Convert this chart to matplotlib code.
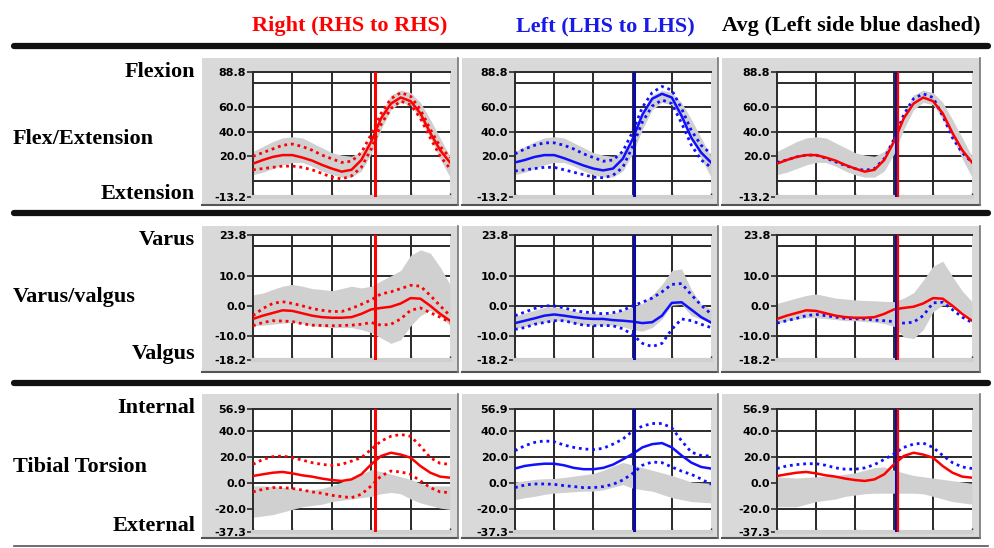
import matplotlib
matplotlib.use("Agg")
import matplotlib.pyplot as plt
from matplotlib.patches import Rectangle

# % gait cycle
gait = [0, 5, 10, 15, 20, 25, 30, 35, 40, 45, 50, 55, 60, 65, 70, 75, 80, 85, 90, 95, 100]

# toe-off (% gait)
toe_r = 62.0
toe_l = 60.8

# ---- Flex/Extension ----
fe_r = [14, 17, 19.5, 21, 21, 19, 16.5, 13, 10, 7.5, 9, 17, 32, 51, 63, 68, 65, 55, 39, 25, 15]
fe_r_hi = [20, 23, 26, 29, 30, 28, 25, 21, 18, 15, 16, 23, 38, 55, 67, 72, 69, 58, 42, 28, 19]
fe_r_lo = [9, 10, 11, 12, 12, 11, 9, 6, 3, 1.5, 4, 11, 26, 46, 59, 65, 62, 51, 35, 20, 10]
fe_l = [15, 17, 19.5, 21, 21, 18.5, 15.5, 12.5, 10, 8.5, 10, 18, 34, 54, 67, 71, 68, 53, 35, 23, 15]
fe_l_hi = [22, 26, 29, 31, 31, 29, 26, 22, 19, 16, 17, 24, 40, 60, 72, 77, 74, 59, 41, 29, 22]
fe_l_lo = [8, 9, 10, 11, 11, 9, 7, 5, 3, 2.5, 4.5, 11, 28, 48, 61, 66, 63, 47, 29, 17, 11]
fe_band_hi = [24, 28, 32, 35, 36, 35, 31, 27, 23, 21, 20, 24, 35, 55, 70, 74, 72, 64, 50, 35, 20]
fe_band_lo = [5, 7, 10, 13, 15, 15, 12, 8, 5, 3, 3, 8, 22, 42, 58, 64, 62, 50, 35, 18, 3]

# ---- Varus/valgus ----
vv_r = [-4.4, -3.3, -2.4, -1.5, -1.7, -2.5, -3.3, -3.8, -4, -4, -3.8, -2.7, -1.2, -0.7, -0.3, 0.8, 2.6, 2.4, 0, -2.7, -5]
vv_r_hi = [-3.3, -0.9, 0.8, 1.4, 0.8, 0, -0.9, -1.5, -1.9, -1.9, -0.9, 0.5, 2, 4, 4.7, 5.8, 6.9, 6.6, 3.5, 0, -3.3]
vv_r_lo = [-6.7, -5.6, -5, -5.1, -5.3, -6, -6.5, -6.6, -6.7, -6.6, -6.5, -6.2, -5.6, -6.5, -6.2, -4.4, -1.5, -0.7, -2.3, -3.8, -5.6]
vv_l = [-5.8, -5, -4.2, -3.3, -2.9, -3.3, -3.8, -4.2, -4.4, -4.4, -4.8, -5, -5.3, -5.8, -5.5, -3.3, 1, 1.2, -1.3, -3.8, -5.6]
vv_l_hi = [-3.3, -2.1, -0.9, 0, 0, -0.7, -1.5, -2.1, -2.3, -2.7, -2.3, -1.5, 0, 1.2, 2.6, 4.7, 7.2, 7.5, 3.7, 0.2, -2.7]
vv_l_lo = [-7.9, -7.3, -6.2, -5.6, -5, -5, -5.8, -6.5, -6.7, -6.6, -6.7, -7.7, -9.7, -12.6, -13.7, -12.6, -7.9, -4.4, -5, -6.2, -7.3]
vv_band_r_hi = [3.7, 4.3, 5.5, 6.6, 7.2, 6.6, 5.8, 5.5, 5.1, 5.8, 6.6, 6, 6.6, 8.4, 10.1, 11.9, 17, 18.8, 17.7, 13, 7.2]
vv_band_r_lo = [-6.7, -6.5, -6.2, -5.8, -5.6, -6, -6.7, -7, -7.3, -7.3, -7.3, -8, -9, -10.8, -12.6, -11.4, -6.7, -3.3, -1.5, -3.3, -6.7]
vv_band_l_hi = [-3.5, -2.5, -1.5, -0.5, -0.3, -1, -1.8, -2.3, -2.5, -2.8, -2.5, -1.5, -0.3, 0.8, 3.7, 7.2, 11.9, 12.4, 5.5, 0.5, -1]
vv_band_l_lo = [-7.5, -7, -6, -5.5, -5, -5, -5.8, -6.3, -6.5, -6.5, -6.5, -7, -8, -8.5, -7.3, -4.4, 0.2, 0.5, -3.3, -4.5, -5.6]
vv_band_a_hi = [0.8, 1.7, 2.6, 3.5, 4, 3.3, 2.6, 2.3, 2, 1.8, 1.7, 1.5, 1.4, 2.6, 4.4, 8.6, 13.3, 15, 9.8, 5, 1.4]
vv_band_a_lo = [-6, -5, -4.5, -4, -4, -4.3, -4.6, -5, -5, -5.3, -5.5, -6, -6.9, -10.5, -11, -8, -2, 0.2, 0, -2, -4.5]

# ---- Tibial Torsion ----
tt_r = [5.6, 6.9, 8.1, 8.7, 7.6, 6.1, 5.1, 3.6, 2.5, 1.8, 3, 6.9, 14.5, 20.9, 23.4, 22, 19.6, 13.2, 8.1, 5.1, 4.3]
tt_r_hi = [14.5, 18.3, 20.4, 20.9, 19.6, 17.8, 15.8, 14.5, 13.7, 14.5, 17, 19.6, 26, 32.3, 36, 37.4, 36, 28.5, 19.6, 15.3, 14.5]
tt_r_lo = [-6.6, -4.6, -3.3, -3.3, -4, -5.1, -6.6, -7.6, -9.2, -10.2, -11, -8.4, -2, 5.6, 9.4, 8.7, 6.9, 1.8, -3.3, -6.6, -7.1]
tt_l = [11.3, 13.3, 14.3, 15, 15, 13.8, 11.8, 10.8, 10.8, 11.8, 14.3, 18.3, 22.5, 27.5, 30, 30.8, 27.5, 21.3, 15.8, 12.5, 11.3]
tt_l_hi = [25, 28.8, 31.3, 32.5, 31.8, 29.3, 27.5, 26.3, 25.8, 26.8, 30, 33.8, 40, 43.8, 45.8, 45.8, 42.5, 32.5, 23.8, 21.3, 20.8]
tt_l_lo = [-3.3, -1.3, -0.5, -0.5, -0.8, -1.8, -2.5, -3.3, -3.3, -2.5, -0.8, 2.5, 7.5, 13.8, 16.3, 15.8, 12.5, 9.3, 6.8, 3.3, -0.8]
tt_band_r_hi = [-2, -2, -2.5, -3, -4, -5, -5, -4, -2, 1, 4, 7, 10.5, 9, 7, 5, 3, 0, -2, -2, -2]
tt_band_r_lo = [-26, -25, -24, -22, -20, -18, -17, -16, -14, -13, -12, -11, -10, -8, -7, -8, -12, -15, -17, -19, -20]
tt_band_l_hi = [1, 2, 3, 3.5, 3.7, 4.5, 5.5, 6.5, 7.5, 10, 13, 16, 14, 12, 10, 8, 6, 3.5, 1, 0.5, 0]
tt_band_l_lo = [-12.5, -11, -10, -8.5, -7.5, -7, -6.5, -6, -6, -5, -3, -1, -3.7, -5, -6, -8.5, -11, -12.5, -14, -14.5, -15]
tt_band_a_hi = [5, 4.5, 4, 4.5, 5, 5.5, 6, 7, 8, 10, 12, 12.6, 10, 8, 6, 5, 4, 3, 2, 1, 0]
tt_band_a_lo = [-18, -18, -18, -16, -14, -13, -12, -10, -9, -8, -7.6, -7.6, -7.6, -7.6, -7.6, -8, -10, -12, -14, -15, -16]

# axis ranges, labelled ticks and grid lines per row
fe_lim = (-13.2, 88.8)
fe_ticks = [88.8, 60.0, 40.0, 20.0, -13.2]
fe_grid = [80, 60, 40, 20, 0]
vv_lim = (-18.2, 23.8)
vv_ticks = [23.8, 10.0, 0.0, -10.0, -18.2]
vv_grid = [20, 10, 0, -10]
tt_lim = (-37.3, 56.9)
tt_ticks = [56.9, 40.0, 20.0, 0.0, -20.0, -37.3]
tt_grid = [40, 20, 0, -20]

titles = ["Right (RHS to RHS)", "Left (LHS to LHS)", "Avg (Left side blue dashed)"]
row_labels = [("Flexion", "Flex/Extension", "Extension"),
              ("Varus", "Varus/valgus", "Valgus"),
              ("Internal", "Tibial Torsion", "External")]

RED = "#ff0000"
BLUE = "#1010ff"
NAVY = "#0a0aa8"
GRID = "#2a2a2a"
DOT = (0, (1, 1.4))

W, H = 995, 548
fig = plt.figure(figsize=(9.95, 5.48), dpi=100)

bg = fig.add_axes([0, 0, 1, 1], zorder=0)
bg.set_xlim(0, W)
bg.set_ylim(H, 0)
bg.axis("off")


def box(l, t, r, b):
    return [l / W, 1 - b / H, (r - l) / W, (b - t) / H]


# pixel layout
panel_cols = [(202, 458), (462, 718), (722, 980)]
panel_rows = [(58, 205), (226, 372), (394, 538)]
plot_cols = [(253, 450), (515, 711), (777, 972)]
plot_rows = [(72, 197), (235, 360), (409, 532)]

# grey panel boxes
for (pt, pb) in panel_rows:
    for (pl, pr) in panel_cols:
        bg.add_patch(Rectangle((pl, pt), pr - pl, pb - pt, fc="#d9d9d9", ec="none"))
        bg.plot([pl, pr], [pb, pb], color="#555555", lw=1.5)
        bg.plot([pr, pr], [pt, pb], color="#777777", lw=1.2)

# black separators
for y in [46, 213, 383]:
    bg.plot([14, 988], [y, y], color="#111111", lw=4.5, solid_capstyle="round")
bg.plot([14, 988], [546, 546], color="#555555", lw=1.2)

serif = dict(family="Liberation Serif", weight="bold", fontsize=16)
bg.text(350, 26, titles[0], color="red", ha="center", va="center", **serif)
bg.text(605, 26, titles[1], color="#1a1ae6", ha="center", va="center", **serif)
bg.text(851, 26, titles[2], color="black", ha="center", va="center", **serif)

label_y = [(72, 139, 194), (240, 297, 354), (408, 467, 526)]
for (top, mid, bot), (ty, my, by) in zip(row_labels, label_y):
    bg.text(195, ty, top, ha="right", va="center", **serif)
    bg.text(13, my, mid, ha="left", va="center", **serif)
    bg.text(195, by, bot, ha="right", va="center", **serif)

rows = [
    dict(lim=fe_lim, ticks=fe_ticks, grid=fe_grid,
         r=(fe_r, fe_r_hi, fe_r_lo), l=(fe_l, fe_l_hi, fe_l_lo),
         bands=[(fe_band_lo, fe_band_hi)] * 3),
    dict(lim=vv_lim, ticks=vv_ticks, grid=vv_grid,
         r=(vv_r, vv_r_hi, vv_r_lo), l=(vv_l, vv_l_hi, vv_l_lo),
         bands=[(vv_band_r_lo, vv_band_r_hi), (vv_band_l_lo, vv_band_l_hi), (vv_band_a_lo, vv_band_a_hi)]),
    dict(lim=tt_lim, ticks=tt_ticks, grid=tt_grid,
         r=(tt_r, tt_r_hi, tt_r_lo), l=(tt_l, tt_l_hi, tt_l_lo),
         bands=[(tt_band_r_lo, tt_band_r_hi), (tt_band_l_lo, tt_band_l_hi), (tt_band_a_lo, tt_band_a_hi)]),
]

for row, (yt, yb) in zip(rows, plot_rows):
    for c, (xl, xr) in enumerate(plot_cols):
        ax = fig.add_axes(box(xl, yt, xr, yb), zorder=2)
        ax.set_facecolor("white")
        ax.set_xlim(0, 100)
        ax.set_ylim(*row["lim"])

        for g in row["grid"]:
            ax.axhline(g, color=GRID, lw=1.4, zorder=1)
        for g in [20, 40, 60, 80]:
            ax.axvline(g, color=GRID, lw=1.4, zorder=1)

        lo, hi = row["bands"][c]
        ax.fill_between(gait, lo, hi, color="#d0d0d0", lw=0, zorder=2)

        if c == 0:
            mean, up, dn = row["r"]
            ax.plot(gait, up, color=RED, lw=2, ls=DOT, zorder=3)
            ax.plot(gait, dn, color=RED, lw=2, ls=DOT, zorder=3)
            ax.plot(gait, mean, color=RED, lw=1.8, zorder=4)
            ax.axvline(toe_r, color=RED, lw=2.2, zorder=5)
        elif c == 1:
            mean, up, dn = row["l"]
            ax.plot(gait, up, color=BLUE, lw=2, ls=DOT, zorder=3)
            ax.plot(gait, dn, color=BLUE, lw=2, ls=DOT, zorder=3)
            ax.plot(gait, mean, color=BLUE, lw=1.8, zorder=4)
            ax.axvline(toe_l, color=NAVY, lw=2.2, zorder=5)
        else:
            ax.plot(gait, row["l"][0], color=BLUE, lw=2, ls=DOT, zorder=3)
            ax.plot(gait, row["r"][0], color=RED, lw=1.8, zorder=4)
            ax.axvline(toe_l, color=NAVY, lw=2.2, zorder=5)
            ax.axvline(toe_r, color=RED, lw=1.6, zorder=5)

        for s in ["left", "top"]:
            ax.spines[s].set_color(GRID)
            ax.spines[s].set_linewidth(1.4)
        ax.spines["right"].set_visible(False)
        ax.spines["bottom"].set_color("#cfcfcf")
        ax.spines["bottom"].set_linewidth(3)

        ax.set_yticks(row["ticks"])
        ax.set_yticklabels(["%.1f" % t for t in row["ticks"]],
                           fontsize=8, fontweight="bold", family="DejaVu Sans")
        ax.tick_params(axis="y", length=4, width=1.2, color=GRID, pad=1)
        ax.set_xticks([0, 20, 40, 60, 80, 100])
        ax.set_xticklabels([])
        ax.tick_params(axis="x", length=3, width=1, color=GRID, direction="in")

fig.savefig("out.png", dpi=100)
